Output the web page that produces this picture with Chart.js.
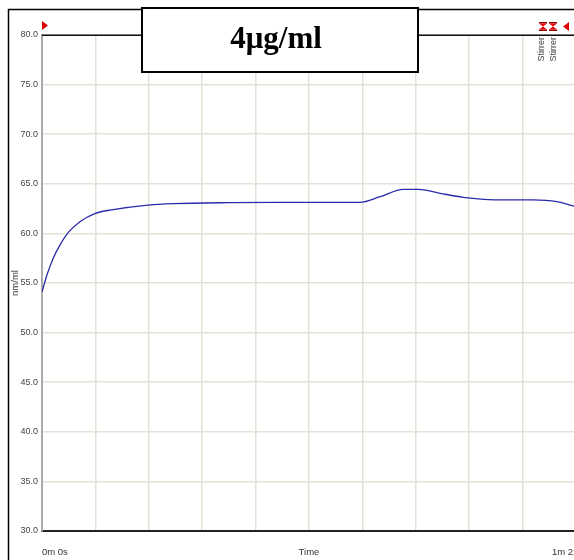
<!DOCTYPE html>
<html>
<head>
<meta charset="utf-8">
<script src="https://cdn.jsdelivr.net/npm/chart.js@4.4.1/dist/chart.umd.min.js"></script>
<style>
  html, body { margin: 0; padding: 0; background: #fff; overflow: hidden; }
  #wrap { width: 600px; height: 560px; }
</style>
</head>
<body>
<div id="wrap"><canvas id="c" width="600" height="560"></canvas></div>
<script>
// Time in seconds, concentration in nm/ml
const timeSec = [0, 0.8, 1.7, 2.7, 4.0, 5.8, 8.0, 10.8, 16.1, 19.9, 28.5, 36.0, 43.7, 48.2, 51.3, 54.8, 57.1, 60.4, 63.9, 67.0, 70.0, 74.5, 78.1, 80.1, 81.0];
const nmPerMl = [54.1, 55.9, 57.5, 58.8, 60.1, 61.2, 62.0, 62.4, 62.86, 63.0, 63.1, 63.13, 63.13, 63.13, 63.7, 64.44, 64.44, 64.04, 63.64, 63.44, 63.37, 63.37, 63.2, 62.86, 62.7];
const xGridSec = [0, 8.1, 16.2, 24.3, 32.4, 40.5, 48.6, 56.7, 64.8, 72.9, 81];
const yTicks = [30, 35, 40, 45, 50, 55, 60, 65, 70, 75, 80];
const xTickLabels = ['0m 0s', '1m 21s'];
const markerLabels = ['Stirrer', 'Stirrer'];

const FONT_NARROW = '"Liberation Sans Narrow", "Arial Narrow", "Liberation Sans", Arial, sans-serif';
const RED = '#e00000';

function redTriangle(ctx, x, y, dir) {
  ctx.beginPath();
  if (dir > 0) {
    ctx.moveTo(x, y); ctx.lineTo(x + 6, y + 4.5); ctx.lineTo(x, y + 9);
  } else {
    ctx.moveTo(x + 6, y); ctx.lineTo(x, y + 4.5); ctx.lineTo(x + 6, y + 9);
  }
  ctx.closePath();
  ctx.fillStyle = RED;
  ctx.fill();
}

function hourglass(ctx, x, y) {
  const w = 8, h = 9;
  ctx.fillStyle = '#900';
  ctx.fillRect(x, y, w, 1.5);
  ctx.fillRect(x, y + h - 1.5, w, 1.5);
  ctx.beginPath();
  ctx.moveTo(x, y + 1.5); ctx.lineTo(x + w, y + 1.5); ctx.lineTo(x + w / 2, y + h / 2);
  ctx.lineTo(x + w, y + h - 1.5); ctx.lineTo(x, y + h - 1.5); ctx.lineTo(x + w / 2, y + h / 2);
  ctx.closePath();
  ctx.fillStyle = RED;
  ctx.fill();
}

const decorPlugin = {
  id: 'decor',
  afterDraw(chart) {
    const { ctx, chartArea: a, scales } = chart;
    ctx.save();

    // plot frame top line
    ctx.strokeStyle = '#111';
    ctx.lineWidth = 1.5;
    ctx.beginPath();
    ctx.moveTo(a.left, a.top + 0.25);
    ctx.lineTo(a.right + 30, a.top + 0.25);
    ctx.stroke();

    // outer window frame
    ctx.lineWidth = 1.5;
    ctx.strokeStyle = '#000';
    ctx.strokeRect(8.5, 9.5, 700, 700);

    // x labels
    ctx.fillStyle = '#333';
    ctx.font = '9.5px ' + FONT_NARROW;
    ctx.textBaseline = 'middle';
    ctx.textAlign = 'left';
    ctx.fillText(xTickLabels[0], scales.x.getPixelForValue(0), 552);
    ctx.fillText(xTickLabels[1], scales.x.getPixelForValue(81) - 24, 552);
    ctx.textAlign = 'center';
    ctx.fillText('Time', (a.left + a.right) / 2, 552);

    // y title
    ctx.save();
    ctx.translate(15, (a.top + a.bottom) / 2);
    ctx.rotate(-Math.PI / 2);
    ctx.textAlign = 'center';
    ctx.fillText('nm/ml', 0, 0);
    ctx.restore();

    // event markers
    redTriangle(ctx, a.left, 21, 1);
    hourglass(ctx, 539, 22);
    hourglass(ctx, 549, 22);
    redTriangle(ctx, 563, 22, -1);
    ctx.fillStyle = '#444';
    ctx.font = '9px ' + FONT_NARROW;
    ctx.textAlign = 'right';
    markerLabels.forEach((t, i) => {
      ctx.save();
      ctx.translate(542 + i * 12, 37);
      ctx.rotate(-Math.PI / 2);
      ctx.fillText(t, 0, 0);
      ctx.restore();
    });

    // title box
    ctx.fillStyle = '#fff';
    ctx.fillRect(142, 8, 276, 64);
    ctx.strokeStyle = '#000';
    ctx.lineWidth = 2;
    ctx.strokeRect(142, 8, 276, 64);
    ctx.fillStyle = '#000';
    ctx.font = 'bold 31px "Liberation Serif", "Times New Roman", serif';
    ctx.textAlign = 'center';
    ctx.textBaseline = 'alphabetic';
    ctx.fillText('4\u03bcg/ml', 276, 48);

    ctx.restore();
  }
};

new Chart(document.getElementById('c'), {
  type: 'line',
  data: {
    datasets: [{
      data: timeSec.map((t, i) => ({ x: t, y: nmPerMl[i] })),
      borderColor: '#2a2aac',
      borderWidth: 1.3,
      pointRadius: 0,
      cubicInterpolationMode: 'monotone',
      fill: false
    }]
  },
  options: {
    responsive: false,
    animation: false,
    layout: { padding: { left: 0, top: 35, right: 24, bottom: 0 } },
    plugins: { legend: { display: false }, tooltip: { enabled: false } },
    scales: {
      x: {
        type: 'linear',
        min: 0,
        max: 81,
        afterBuildTicks: (s) => { s.ticks = xGridSec.map(v => ({ value: v })); },
        afterFit: (s) => { s.height = 29; },
        grid: { color: '#e4e1d6', lineWidth: 1.5, drawTicks: false },
        border: { color: '#222', width: 2 },
        ticks: { display: false }
      },
      y: {
        min: 30,
        max: 80,
        afterBuildTicks: (s) => { s.ticks = yTicks.map(v => ({ value: v })); },
        afterFit: (s) => { s.width = 42; },
        grid: { color: '#e4e1d6', lineWidth: 1.5, drawTicks: false },
        border: { color: '#aaa', width: 2 },
        ticks: {
          padding: 4,
          color: '#444',
          font: { family: FONT_NARROW, size: 9 },
          callback: (v) => v.toFixed(1)
        }
      }
    }
  },
  plugins: [decorPlugin]
});
</script>
</body>
</html>
